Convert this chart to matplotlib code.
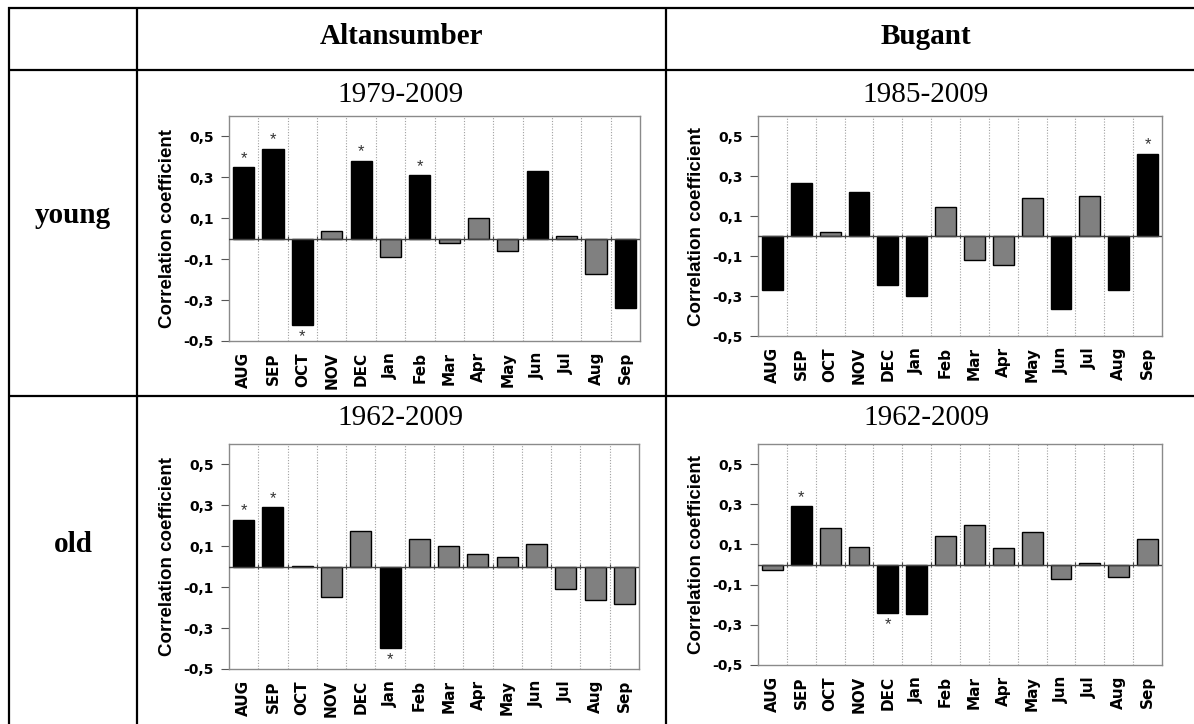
import matplotlib
matplotlib.use("Agg")
import matplotlib.pyplot as plt
from matplotlib.lines import Line2D
import numpy as np

# ---- data -----------------------------------------------------------------
months = ['AUG', 'SEP', 'OCT', 'NOV', 'DEC', 'Jan', 'Feb', 'Mar', 'Apr',
          'May', 'Jun', 'Jul', 'Aug', 'Sep']

sites = ['Altansumber', 'Bugant']
ages = ['young', 'old']

alt_young_periods = '1979-2009'
alt_young = [0.35, 0.44, -0.42, 0.04, 0.38, -0.09, 0.31, -0.02, 0.10,
             -0.06, 0.33, 0.015, -0.17, -0.34]
alt_young_dark = [1, 1, 1, 0, 1, 0, 1, 0, 0, 0, 1, 0, 0, 1]
alt_young_sig = [1, 1, 1, 0, 1, 0, 1, 0, 0, 0, 0, 0, 0, 0]

bug_young_periods = '1985-2009'
bug_young = [-0.27, 0.265, 0.02, 0.22, -0.245, -0.30, 0.145, -0.12, -0.145,
             0.19, -0.365, 0.20, -0.27, 0.41]
bug_young_dark = [1, 1, 0, 1, 1, 1, 0, 0, 0, 0, 1, 0, 1, 1]
bug_young_sig = [0, 0, 0, 0, 0, 0, 0, 0, 0, 0, 0, 0, 0, 1]

alt_old_periods = '1962-2009'
alt_old = [0.23, 0.29, 0.005, -0.15, 0.175, -0.395, 0.135, 0.10, 0.06,
           0.05, 0.11, -0.11, -0.165, -0.18]
alt_old_dark = [1, 1, 0, 0, 0, 1, 0, 0, 0, 0, 0, 0, 0, 0]
alt_old_sig = [1, 1, 0, 0, 0, 1, 0, 0, 0, 0, 0, 0, 0, 0]

bug_old_periods = '1962-2009'
bug_old = [-0.025, 0.29, 0.18, 0.085, -0.24, -0.245, 0.14, 0.195, 0.08,
           0.16, -0.07, 0.008, -0.06, 0.125]
bug_old_dark = [0, 1, 0, 0, 1, 1, 0, 0, 0, 0, 0, 0, 0, 0]
bug_old_sig = [0, 1, 0, 0, 1, 0, 0, 0, 0, 0, 0, 0, 0, 0]

yticks = [-0.5, -0.3, -0.1, 0.1, 0.3, 0.5]
ytick_labels = ['-0,5', '-0,3', '-0,1', '0,1', '0,3', '0,5']
ylabel = 'Correlation coefficient'

# ---- figure ---------------------------------------------------------------
W, H = 1194, 724
fig = plt.figure(figsize=(W / 100, H / 100), dpi=100)
fig.patch.set_facecolor('white')

SERIF = 'Liberation Serif'
SANS = 'Liberation Sans'
WIDE = 'DejaVu Sans'


def fx(px):
    return px / W


def fy(py):
    return 1 - py / H


# table rules
rule_kw = dict(color='black', lw=1.6, transform=fig.transFigure, solid_capstyle='butt')
for y in (8, 70, 396):
    fig.add_artist(Line2D([fx(8), fx(W)], [fy(y), fy(y)], **rule_kw))
for x in (9, 137, 666):
    fig.add_artist(Line2D([fx(x), fx(x)], [fy(7), fy(H)], **rule_kw))

# header and row labels
col_centers = [401, 926]
for name, cx in zip(sites, col_centers):
    fig.text(fx(cx), fy(36), name, ha='center', va='center',
             family=SERIF, weight='bold', fontsize=21)
row_centers = [215, 545]
for name, cy in zip(ages, row_centers):
    fig.text(fx(73), fy(cy), name, ha='center', va='center',
             family=SERIF, weight='bold', fontsize=21)

panels = [
    (alt_young_periods, alt_young, alt_young_dark, alt_young_sig, (229, 116, 640, 341), (401, 95)),
    (bug_young_periods, bug_young, bug_young_dark, bug_young_sig, (758, 116, 1162, 336), (926, 95)),
    (alt_old_periods, alt_old, alt_old_dark, alt_old_sig, (229, 444, 639, 669), (401, 418)),
    (bug_old_periods, bug_old, bug_old_dark, bug_old_sig, (758, 444, 1162, 665), (926, 418)),
]

frame_col = '#8a8a8a'
x = np.arange(len(months))

for period, vals, dark, sig, (l, t, r, b), (tx, ty) in panels:
    fig.text(fx(tx), fy(ty), period, ha='center', va='center',
             family=SERIF, fontsize=21)

    ax = fig.add_axes([fx(l), fy(b), fx(r) - fx(l), fy(t) - fy(b)])
    ax.set_xlim(-0.5, len(months) - 0.5)
    ax.set_ylim(-0.5, 0.6)

    # category separators
    bounds = np.arange(len(months) - 1) + 0.5
    ax.vlines(bounds, -0.5, 0.6, colors='#a0a0a0', linestyles=(0, (1, 1.5)),
              lw=0.8, zorder=0)

    colors = ['black' if d else '#808080' for d in dark]
    ax.bar(x, vals, width=0.72, color=colors, edgecolor='black',
           linewidth=1.0, zorder=2)

    # zero axis with small boundary ticks
    ax.axhline(0, color='#444444', lw=1.0, zorder=3)
    ax.vlines(bounds, -0.012, 0.012, colors='#444444', lw=0.8, zorder=3)

    for xi, v, s in zip(x, vals, sig):
        if s:
            if v >= 0:
                ax.annotate('*', (xi, v), xytext=(0, 1), textcoords='offset points',
                            ha='center', va='bottom', fontsize=12, family=SANS,
                            color='#333333')
            else:
                ax.annotate('*', (xi, v), xytext=(0, -3), textcoords='offset points',
                            ha='center', va='top', fontsize=12, family=SANS,
                            color='#333333')

    for sp in ax.spines.values():
        sp.set_color(frame_col)
        sp.set_linewidth(1.0)

    ax.set_yticks(yticks)
    ax.set_yticklabels(ytick_labels, family=WIDE, weight='bold', fontsize=10)
    ax.tick_params(axis='y', length=6, width=0.8, color='#555555', pad=5,
                   direction='out')
    ax.set_xticks(x)
    ax.set_xticklabels(months, rotation=90, family=WIDE, weight='bold',
                       fontsize=11)
    ax.tick_params(axis='x', length=0, pad=8)

    ax.set_ylabel(ylabel, family=SANS, weight='bold', fontsize=13.5, labelpad=5)

fig.savefig('out.png', dpi=100, facecolor='white')
